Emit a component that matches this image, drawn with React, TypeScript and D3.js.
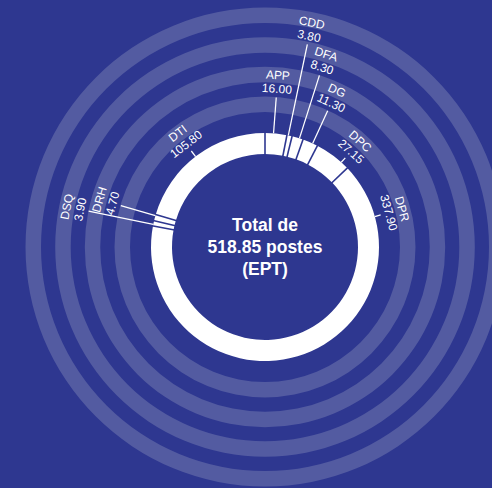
import React, { useEffect } from "react";
import * as d3 from "d3";

const categories = ["APP", "CDD", "DFA", "DG", "DPC", "DPR", "DSQ", "DRH", "DTI"];
const values = [16.0, 3.8, 8.3, 11.3, 27.15, 337.9, 3.9, 4.7, 105.8];
const valueLabels = ["16.00", "3.80", "8.30", "11.30", "27.15", "337.90", "3.90", "4.70", "105.80"];
const centerLines = ["Total de", "518.85 postes", "(EPT)"];

// label layout (degrees clockwise from 12 o'clock, leader end radius)
const labelAngles = [4.3, 11.8, 17.6, 24.7, 42, 74.5, 281.5, 286, 322.5];
const labelRadii = [150, 207, 180, 150, 120, 120, 180, 150, 121];

const ringInner = [135, 164.7, 194.3, 224];

const W = 492;
const H = 488;
const CX = 265;
const CY = 247;
const R_OUT = 114;
const R_IN = 93;
const BG = "#2e3790";
const BAND = "#535ba1";
const FONT = "'Liberation Sans', Arial, Helvetica, sans-serif";

export default function App() {
  useEffect(() => {
    document.body.style.margin = "0";
    document.body.style.background = BG;
  }, []);

  const data = categories.map((c, i) => ({ name: c, value: values[i], label: valueLabels[i] }));
  const pie = d3
    .pie<any>()
    .sort(null)
    .value((d: any) => d.value)
    .startAngle(0)
    .endAngle(2 * Math.PI);
  const arcs = pie(data);
  const arc = d3.arc<any>().innerRadius(R_IN).outerRadius(R_OUT);
  const ringArc = d3.arc<any>().startAngle(0).endAngle(2 * Math.PI);

  const polar = (a: number, r: number): [number, number] => [r * Math.sin(a), -r * Math.cos(a)];
  const toRad = (deg: number) => (deg * Math.PI) / 180;

  return (
    <svg width={W} height={H} style={{ display: "block", background: BG }}>
      <rect x={0} y={0} width={W} height={H} fill={BG} />
      <g transform={`translate(${CX},${CY})`}>
        {ringInner.map((r, i) => (
          <path
            key={"ring" + i}
            d={ringArc({ innerRadius: r, outerRadius: r + 15.5 } as any) || ""}
            fill={BAND}
          />
        ))}
        {arcs.map((a, i) => (
          <path key={"seg" + i} d={arc(a) || ""} fill="#ffffff" />
        ))}
        {arcs.map((a, i) => {
          const [x1, y1] = polar(a.startAngle, R_IN - 1);
          const [x2, y2] = polar(a.startAngle, R_OUT + 1);
          return <line key={"sep" + i} x1={x1} y1={y1} x2={x2} y2={y2} stroke={BG} strokeWidth={1.6} />;
        })}
        {arcs.map((a, i) => {
          const la = toRad(labelAngles[i]);
          const sa = Math.min(Math.max(la, a.startAngle), a.endAngle);
          const [x1, y1] = polar(sa, R_OUT);
          const [x2, y2] = polar(la, labelRadii[i]);
          const deg = labelAngles[i] > 180 ? labelAngles[i] - 360 : labelAngles[i];
          const rEnd = labelRadii[i];
          return (
            <g key={"lab" + i}>
              <line x1={x1} y1={y1} x2={x2} y2={y2} stroke="#ffffff" strokeWidth={1.25} />
              <g transform={`rotate(${deg})`}>
                <text
                  x={0}
                  y={-(rEnd + 4.5)}
                  textAnchor="middle"
                  fill="#ffffff"
                  fontFamily={FONT}
                  fontSize={12}
                >
                  {a.data.label}
                </text>
                <text
                  x={0}
                  y={-(rEnd + 18.2)}
                  textAnchor="middle"
                  fill="#ffffff"
                  fontFamily={FONT}
                  fontSize={12}
                >
                  {a.data.name}
                </text>
              </g>
            </g>
          );
        })}
        {centerLines.map((t, i) => (
          <text
            key={"c" + i}
            x={0}
            y={-15.7 + i * 21.9}
            textAnchor="middle"
            fill="#ffffff"
            fontFamily={FONT}
            fontWeight="bold"
            fontSize={17.5}
          >
            {t}
          </text>
        ))}
      </g>
    </svg>
  );
}
